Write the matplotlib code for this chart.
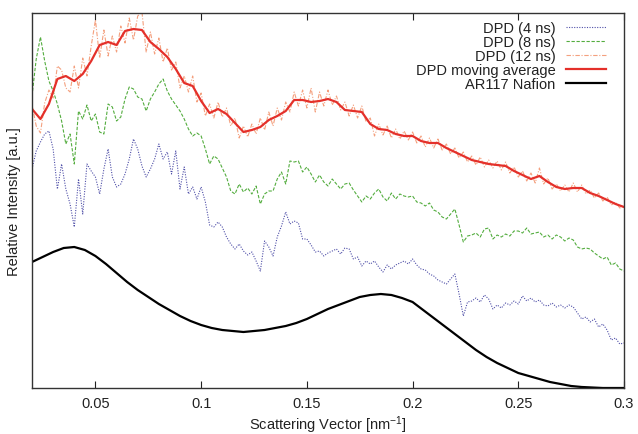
import numpy as np
import matplotlib
matplotlib.use("Agg")
import matplotlib.pyplot as plt

plt.rcParams['font.family'] = ['Liberation Sans', 'DejaVu Sans']
plt.rcParams['mathtext.default'] = 'regular'

# scattering vector grids [nm^-1]
q_fine = np.linspace(0.02, 0.30, 141)     # step 0.002, DPD runs
q_avg = np.linspace(0.02, 0.30, 71)       # step 0.004, moving average
q_exp = np.linspace(0.02, 0.30, 57)       # step 0.005, experiment

# relative intensity, arbitrary units
dpd_4ns = [219, 237, 246, 254, 257, 239, 199, 224, 199, 184, 161, 209, 174, 224, 217,
           211, 194, 219, 239, 211, 201, 204, 214, 229, 249, 239, 222, 211, 219, 229,
           244, 229, 236, 214, 237, 199, 221, 194, 201, 189, 201, 186, 163, 161, 166,
           161, 151, 144, 139, 144, 137, 133, 136, 127, 117, 147, 141, 132, 151, 162,
           176, 164, 167, 165, 149, 149, 143, 136, 137, 132, 135, 137, 139, 134, 140,
           139, 129, 131, 122, 127, 124, 127, 121, 116, 123, 119, 123, 125, 127, 124,
           129, 123, 119, 118, 114, 112, 108, 106, 104, 109, 114, 94, 72, 86, 87,
           90, 86, 93, 89, 79, 83, 80, 85, 83, 87, 84, 92, 87, 90, 86,
           88, 83, 82, 85, 81, 83, 80, 83, 81, 75, 69, 71, 66, 69, 61,
           64, 58, 48, 50, 44, 45]

dpd_8ns = [292, 329, 351, 327, 307, 297, 284, 267, 244, 254, 224, 277, 269, 283, 267,
           274, 256, 254, 284, 281, 267, 271, 289, 301, 299, 291, 289, 277, 289, 296,
           304, 309, 297, 289, 283, 277, 269, 259, 252, 255, 252, 239, 224, 232, 229,
           220, 211, 197, 194, 204, 196, 200, 194, 202, 184, 194, 197, 197, 209, 216,
           204, 227, 226, 227, 216, 221, 214, 206, 213, 206, 202, 209, 204, 199, 204,
           205, 198, 192, 186, 192, 189, 195, 199, 191, 187, 195, 189, 194, 192, 191,
           192, 186, 185, 182, 185, 178, 176, 171, 169, 174, 179, 163, 146, 152, 153,
           155, 151, 159, 160, 149, 153, 151, 154, 152, 157, 157, 155, 160, 154, 155,
           156, 151, 153, 149, 153, 151, 147, 150, 148, 141, 139, 140, 139, 135, 132,
           129, 131, 123, 125, 119, 117]

dpd_12ns = [283, 262, 255, 285, 298, 290, 322, 318, 300, 296, 322, 300, 330, 312, 342,
            368, 330, 358, 332, 352, 336, 362, 345, 370, 348, 372, 376, 336, 356, 334,
            350, 326, 340, 318, 326, 300, 312, 296, 312, 286, 295, 272, 284, 270, 286,
            271, 280, 262, 270, 250, 262, 251, 264, 254, 270, 258, 276, 262, 280, 268,
            286, 276, 296, 282, 298, 280, 300, 276, 296, 282, 298, 283, 292, 278, 286,
            272, 283, 270, 282, 266, 270, 252, 264, 253, 262, 250, 259, 249, 257, 248,
            256, 245, 252, 241, 250, 240, 249, 238, 244, 234, 240, 230, 236, 226, 232,
            223, 231, 221, 228, 220, 227, 218, 226, 215, 221, 211, 217, 207, 215, 205,
            220, 204, 210, 199, 204, 197, 203, 196, 205, 196, 203, 194, 198, 190, 195,
            187, 191, 183, 186, 180, 182]

dpd_avg = [279, 269, 284, 309, 312, 307, 314, 327, 343, 346, 343, 357, 359, 358, 346,
           339, 331, 319, 305, 302, 287, 275, 279, 274, 265, 256, 258, 261, 268, 272,
           277, 288, 288, 286, 287, 289, 286, 278, 277, 276, 264, 259, 258, 254, 252,
           252, 247, 245, 245, 240, 236, 232, 228, 226, 224, 223, 222, 217, 213, 209,
           212, 206, 201, 199, 200, 200, 195, 192, 188, 184, 181]

nafion = [126, 131, 136, 140, 141, 138, 132, 124, 115, 106, 98, 91, 84, 78, 72, 67,
          63, 60, 58, 57, 56, 57, 58, 60, 62, 65, 69, 74, 79, 83, 87, 91, 93, 94,
          93, 90, 86, 78, 70, 62, 54, 46, 38, 31, 25, 20, 15, 12, 9, 6, 4, 2, 1,
          0.5, 0, 0, 0]

fig = plt.figure(figsize=(6.38, 4.35), dpi=100)
ax = fig.add_axes([32/638, 46/435, 592/638, 375/435])

ax.plot(q_fine, dpd_4ns, color='#4f4fa8', lw=0.8, ls=(0, (1, 1.3)), label='DPD (4 ns)')
ax.plot(q_fine, dpd_8ns, color='#54ad3f', lw=0.8, ls=(0, (3, 1.5)), label='DPD (8 ns)')
ax.plot(q_fine, dpd_12ns, color='#f4a07e', lw=0.8, ls=(0, (4, 1.5, 1, 1.5)), label='DPD (12 ns)')
ax.plot(q_avg, dpd_avg, color='#e4302a', lw=1.6, label='DPD moving average')
ax.plot(q_exp, nafion, color='black', lw=1.6, label='AR117 Nafion')

ax.set_xlim(0.02, 0.30)
ax.set_ylim(0, 375)
ax.set_xticks([0.05, 0.1, 0.15, 0.2, 0.25, 0.3])
ax.set_xticklabels(['0.05', '0.1', '0.15', '0.2', '0.25', '0.3'])
ax.set_yticks([])
ax.tick_params(axis='x', direction='in', top=True, length=5, width=0.8,
               labelsize=10.5, pad=6, colors='#222222')
for s in ax.spines.values():
    s.set_linewidth(1.0)
    s.set_color('#333333')

ax.set_xlabel('Scattering Vector [nm$^{-1}$]', fontsize=10.5, color='#222222', labelpad=2)
ax.set_ylabel('Relative Intensity [a.u.]', fontsize=10.5, color='#222222', labelpad=8)

leg = ax.legend(loc='upper right', bbox_to_anchor=(0.99, 1.01), frameon=False,
                markerfirst=False, fontsize=10.5, handlelength=2.8,
                handletextpad=0.7, labelspacing=0.0, borderpad=0.3)
for t in leg.get_texts():
    t.set_color('#222222')

fig.savefig('out.png', dpi=100)
